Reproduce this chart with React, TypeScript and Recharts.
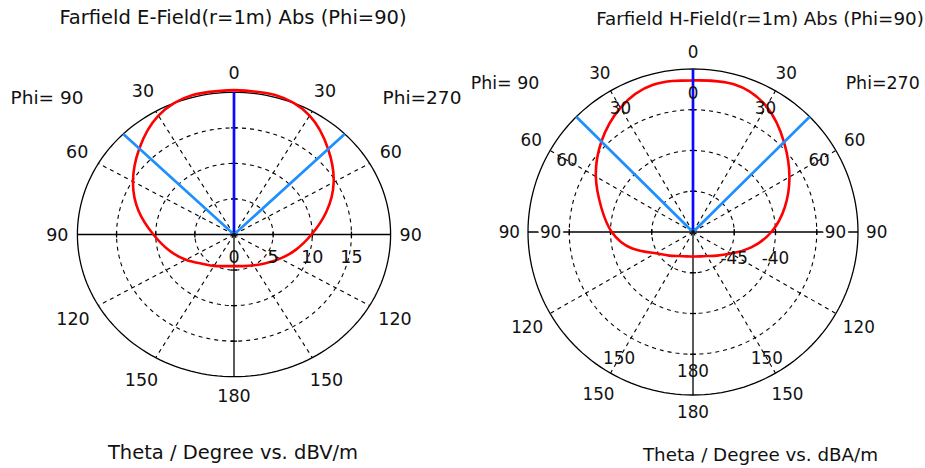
import React from 'react';
import { LineChart, Line, XAxis, YAxis, ReferenceDot } from 'recharts';

// theta in degrees, measured from the top of each half-plot
const THETA = [0, 15, 30, 45, 60, 75, 90, 105, 120, 135, 150, 165, 180];

// Farfield E-Field, dBV/m
const E_PHI270 = [20.3, 20.3, 19.3, 17.0, 14.7, 12.2, 9.9, 8.2, 6.8, 5.7, 5.0, 4.6, 4.45];
const E_PHI90 = [20.3, 20.3, 19.3, 17.1, 14.9, 12.6, 10.3, 8.6, 7.1, 5.8, 5.1, 4.6, 4.45];

// Farfield H-Field, dBA/m
const H_PHI270 = [-31.4, -31.2, -32.2, -34.4, -36.5, -38.5, -40.5, -42.7, -44.7, -45.9, -46.6, -46.9, -47.0];
const H_PHI90 = [-31.4, -31.3, -32.4, -34.3, -36.4, -38.5, -40.15, -42.3, -44.8, -45.9, -46.6, -46.9, -47.0];

// radial scales
const E_RINGS = [0, 5, 10, 15, 20];
const E_RING_LABELS = ['0', '5', '10', '15'];
const H_RINGS = [-50, -45, -40, -35, -30];
const H_RING_LABELS = ['', '-45', '-40'];

const ANGLE_TICKS = [0, 30, 60, 90, 120, 150, 180];
const H_INNER_ANGLE_TICKS = [0, 30, 60, 90, 150, 180];
const SPOKES = [30, 60, 120, 150];
const MARKER_ANGLE = 45;

const FONT = '"DejaVu Sans", Verdana, sans-serif';

const rad = (d: number) => (d * Math.PI) / 180;
const pt = (deg: number, r: number, side: number) => ({
    x: side * r * Math.sin(rad(deg)),
    y: r * Math.cos(rad(deg)),
});

interface PanelProps {
    left: number;
    width: number;
    height: number;
    cx: number;
    cy: number;
    sx: number;
    sy: number;
    rings: number[];
    ringLabels: string[];
    phi270: number[];
    phi90: number[];
    digitSize: number;
    labelGap: number;
    labelHalfH: number;
    innerAngles?: number[];
    innerRing?: number;
    innerGap?: number;
}

function PolarPanel(p: PanelProps) {
    const base = p.rings[0];
    const R = p.rings[p.rings.length - 1] - base;
    const xDomain = [-p.cx / p.sx, (p.width - p.cx) / p.sx];
    const yDomain = [-(p.height - p.cy) / p.sy, p.cy / p.sy];

    // closed curve: phi=270 side (right) top to bottom, then phi=90 side (left) bottom to top
    const curve = [
        ...THETA.map((t, i) => pt(t, p.phi270[i] - base, 1)),
        ...THETA.map((t, i) => pt(t, p.phi90[i] - base, -1)).reverse(),
    ];

    const ringPts = (r: number) => {
        const out = [];
        for (let a = 0; a <= 360; a += 2) out.push(pt(a, r, 1));
        return out;
    };

    const tickX = 3 / p.sx;
    const tickY = 3 / p.sy;

    const lines: { key: string; data: { x: number; y: number }[]; dash?: string }[] = [];

    p.rings.slice(1).forEach((v, i, arr) => {
        const outer = i === arr.length - 1;
        lines.push({ key: `ring${i}`, data: ringPts(v - base), dash: outer ? undefined : '4 4' });
    });
    SPOKES.forEach(a => {
        [1, -1].forEach(s => {
            lines.push({ key: `sp${a}${s}`, data: [{ x: 0, y: 0 }, pt(a, R, s)], dash: '4 4' });
        });
    });
    lines.push({ key: 'hx', data: [{ x: -R, y: 0 }, { x: R, y: 0 }] });
    lines.push({ key: 'vy', data: [{ x: 0, y: -R }, { x: 0, y: R }] });
    p.rings.slice(1, -1).forEach((v, i) => {
        const r = v - base;
        [1, -1].forEach(s => {
            lines.push({ key: `tx${i}${s}`, data: [{ x: s * r, y: -tickY }, { x: s * r, y: tickY }] });
            lines.push({ key: `ty${i}${s}`, data: [{ x: -tickX, y: s * r }, { x: tickX, y: s * r }] });
        });
    });

    const label = (key: string, x: number, y: number, text: string, size: number, halo = false) => (
        <ReferenceDot
            key={key}
            x={x}
            y={y}
            r={1}
            shape={(sp: any) => (
                <text
                    x={sp.cx}
                    y={sp.cy}
                    textAnchor="middle"
                    dominantBaseline="central"
                    fontSize={size}
                    fontFamily={FONT}
                    fill="#111"
                    stroke={halo ? '#fff' : 'none'}
                    strokeWidth={halo ? 6 : 0}
                    paintOrder="stroke"
                >
                    {text}
                </text>
            )}
        />
    );

    // place an angle label just outside a ring, pushed out by the size of its text box
    const angleLabels = (angles: number[], ringR: number, gap: number, prefix: string, halo: boolean) =>
        angles.flatMap(a => {
            const sides = a === 0 || a === 180 ? [1] : [1, -1];
            return sides.map(s => {
                const q = pt(a, ringR, s);
                const px = q.x * p.sx;
                const py = q.y * p.sy;
                const len = Math.hypot(px, py);
                const hw = String(a).length * p.digitSize * 0.318;
                const off = gap + hw * Math.abs(Math.sin(rad(a))) + p.labelHalfH * Math.abs(Math.cos(rad(a)));
                const x = q.x + (off * px) / len / p.sx;
                const y = q.y + (off * py) / len / p.sy;
                return label(`${prefix}${a}${s}`, x, y, String(a), p.digitSize, halo && a === 90);
            });
        });

    const lineProps = { dataKey: 'y', dot: false as const, activeDot: false as const, isAnimationActive: false };

    return (
        <div style={{ position: 'absolute', left: p.left, top: 0 }}>
            <LineChart width={p.width} height={p.height} margin={{ top: 0, right: 0, bottom: 0, left: 0 }}>
                <XAxis type="number" dataKey="x" domain={xDomain} allowDataOverflow hide />
                <YAxis type="number" dataKey="y" domain={yDomain} allowDataOverflow hide />
                {lines.map(l => (
                    <Line key={l.key} data={l.data} type="linear" stroke="#000" strokeWidth={l.dash ? 1.1 : 1.3} strokeDasharray={l.dash} {...lineProps} />
                ))}
                {angleLabels(ANGLE_TICKS, R, p.labelGap, 'o', false)}
                {p.innerAngles && angleLabels(p.innerAngles, (p.innerRing ?? 0) - base, p.innerGap ?? p.labelGap, 'i', true)}
                {p.ringLabels.map((t, i) => (t ? label(`rl${i}`, p.rings[i] - base, -3.2, t, p.digitSize) : null))}
                <Line data={curve} type="natural" stroke="#ff0000" strokeWidth={2.6} {...lineProps} />
                <Line data={[{ x: 0, y: 0 }, { x: 0, y: R }]} stroke="#0a0aff" strokeWidth={2.7} {...lineProps} />
                <Line data={[pt(MARKER_ANGLE, R, -1), { x: 0, y: 0 }, pt(MARKER_ANGLE, R, 1)]} stroke="#1e8fff" strokeWidth={2.7} {...lineProps} />
                <ReferenceDot x={0} y={0} r={2} fill="#111" stroke="none" />
            </LineChart>
        </div>
    );
}

const Caption = ({ x, y, size, children }: { x: number; y: number; size: number; children: React.ReactNode }) => (
    <div
        style={{
            position: 'absolute',
            left: x - 300,
            top: y - size * 0.58,
            width: 600,
            textAlign: 'center',
            fontSize: size,
            lineHeight: `${size * 1.2}px`,
            whiteSpace: 'pre',
            color: '#111',
        }}
    >
        {children}
    </div>
);

export default function App() {
    return (
        <div style={{ position: 'absolute', left: 0, top: 0, width: 925, height: 468, background: '#fff', fontFamily: FONT, overflow: 'hidden' }}>
            <PolarPanel
                left={0}
                width={465}
                height={468}
                cx={234}
                cy={234.5}
                sx={7.83}
                sy={7.11}
                rings={E_RINGS}
                ringLabels={E_RING_LABELS}
                phi270={E_PHI270}
                phi90={E_PHI90}
                digitSize={17.5}
                labelGap={9}
                labelHalfH={10.5}
            />
            <PolarPanel
                left={465}
                width={460}
                height={468}
                cx={228}
                cy={232}
                sx={8.25}
                sy={8.15}
                rings={H_RINGS}
                ringLabels={H_RING_LABELS}
                phi270={H_PHI270}
                phi90={H_PHI90}
                digitSize={16.8}
                labelGap={8}
                labelHalfH={9}
                innerAngles={H_INNER_ANGLE_TICKS}
                innerRing={-35}
                innerGap={8}
            />
            <Caption x={233} y={17.3} size={19.5}>Farfield E-Field(r=1m) Abs (Phi=90)</Caption>
            <Caption x={47} y={98} size={18.5}>Phi= 90</Caption>
            <Caption x={422} y={98} size={18.5}>Phi=270</Caption>
            <Caption x={233} y={452} size={19.5}>Theta / Degree vs. dBV/m</Caption>

            <Caption x={760} y={19} size={18.3}>Farfield H-Field(r=1m) Abs (Phi=90)</Caption>
            <Caption x={505} y={83.3} size={17.4}>Phi= 90</Caption>
            <Caption x={882.7} y={83.3} size={17.4}>Phi=270</Caption>
            <Caption x={760.5} y={455} size={18.3}>Theta / Degree vs. dBA/m</Caption>
        </div>
    );
}
